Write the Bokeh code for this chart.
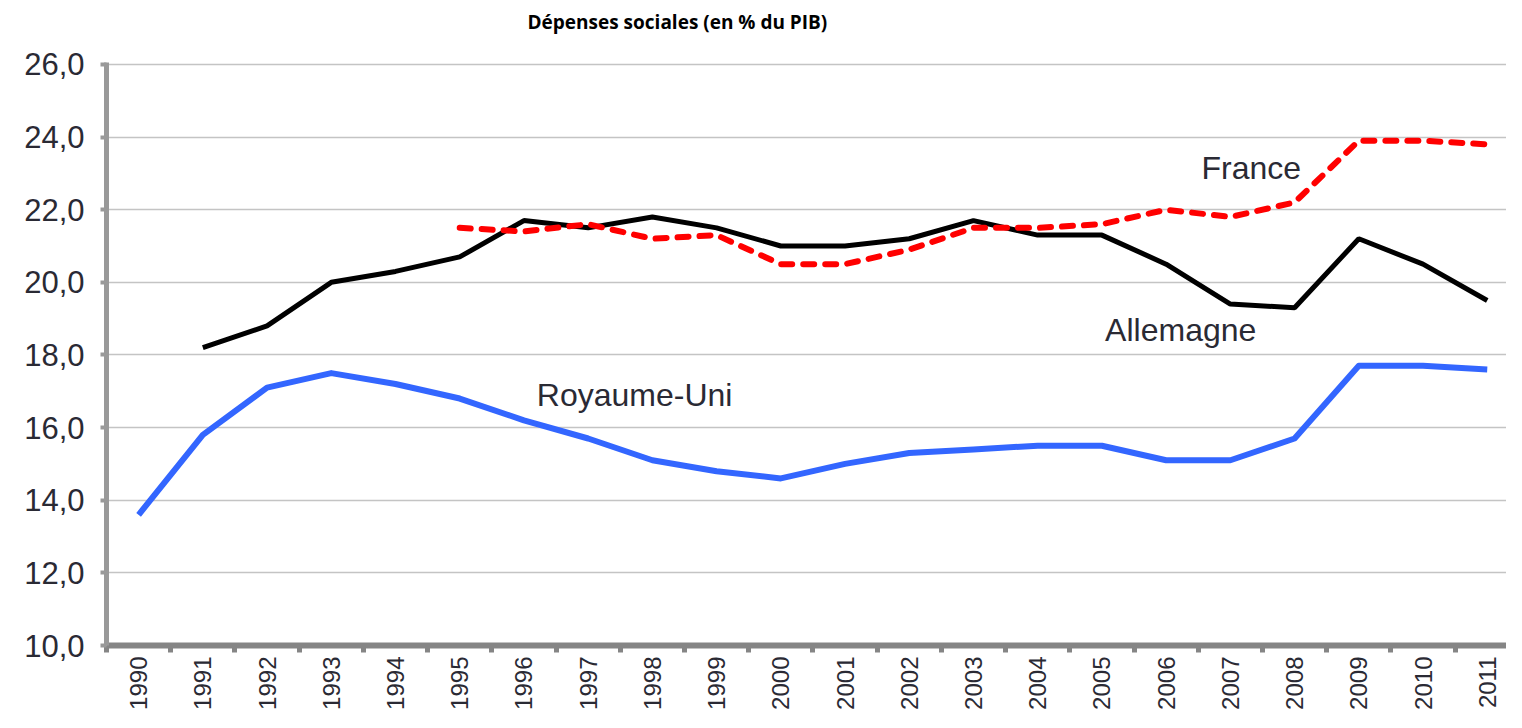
from math import pi
from bokeh.plotting import figure
from bokeh.models import FixedTicker, Range1d, Label
from bokeh.embed import file_html
from bokeh.resources import INLINE

years = [1990, 1991, 1992, 1993, 1994, 1995, 1996, 1997, 1998, 1999, 2000,
         2001, 2002, 2003, 2004, 2005, 2006, 2007, 2008, 2009, 2010, 2011]

uk_years = years
uk_values = [13.6, 15.8, 17.1, 17.5, 17.2, 16.8, 16.2, 15.7, 15.1, 14.8, 14.6,
             15.0, 15.3, 15.4, 15.5, 15.5, 15.1, 15.1, 15.7, 17.7, 17.7, 17.6]

de_years = years[1:]
de_values = [18.2, 18.8, 20.0, 20.3, 20.7, 21.7, 21.5, 21.8, 21.5, 21.0,
             21.0, 21.2, 21.7, 21.3, 21.3, 20.5, 19.4, 19.3, 21.2, 20.5, 19.5]

fr_years = years[5:]
fr_values = [21.5, 21.4, 21.6, 21.2, 21.3, 20.5, 20.5, 20.9, 21.5, 21.5,
             21.6, 22.0, 21.8, 22.2, 23.9, 23.9, 23.8]

y_ticks = [10, 12, 14, 16, 18, 20, 22, 24, 26]

series_labels = [
    ("France", 2006.55, 23.15),
    ("Allemagne", 2005.05, 18.7),
    ("Royaume-Uni", 1996.2, 16.9),
]

title_text = "Dépenses sociales (en % du PIB)"

FONT = "Liberation Sans"
TEXT = "#2a2a34"

x0 = years[0]
idx = lambda ys: [y - x0 for y in ys]

# the y range extends above 26 to leave room for the title inside the frame
p = figure(width=1506, height=712,
           x_range=Range1d(-0.5, 21.3), y_range=Range1d(10, 27.54),
           output_backend="svg", toolbar_location=None,
           min_border_left=106, min_border_right=0,
           min_border_bottom=66, min_border_top=8)

p.outline_line_color = None
p.xgrid.grid_line_color = None
p.ygrid.grid_line_color = "#c4c4c4"
p.ygrid.grid_line_width = 1.5
p.ygrid.ticker = FixedTicker(ticks=y_ticks)

# y axis
p.yaxis.ticker = FixedTicker(ticks=y_ticks)
p.yaxis.bounds = (10, 26.05)
p.yaxis.major_label_overrides = {t: f"{t},0" for t in y_ticks}
p.yaxis.axis_line_color = "#999999"
p.yaxis.axis_line_width = 5
p.yaxis.major_tick_line_color = "#999999"
p.yaxis.major_tick_line_width = 4
p.yaxis.major_tick_out = 6
p.yaxis.major_tick_in = 0
p.yaxis.minor_tick_line_color = None
p.yaxis.major_label_text_font = FONT
p.yaxis.major_label_text_font_size = "31px"
p.yaxis.major_label_text_color = TEXT
p.yaxis.major_label_standoff = 16

# x axis
centers = idx(years)
bounds = [c - 0.5 for c in centers] + [centers[-1] + 0.5]
p.xaxis.ticker = FixedTicker(ticks=centers, minor_ticks=bounds)
p.xaxis.major_label_overrides = {c: str(y) for c, y in zip(centers, years)}
p.xaxis.major_label_orientation = pi / 2
p.xaxis.axis_line_color = "#858585"
p.xaxis.axis_line_width = 6
p.xaxis.major_tick_line_color = None
p.xaxis.minor_tick_line_color = "#858585"
p.xaxis.minor_tick_line_width = 5
p.xaxis.minor_tick_out = 7
p.xaxis.minor_tick_in = 0
p.xaxis.major_label_text_font = FONT
p.xaxis.major_label_text_font_size = "24px"
p.xaxis.major_label_text_color = TEXT
p.xaxis.major_label_standoff = 4

p.line(idx(uk_years), uk_values, line_color="#3366ff", line_width=6, line_join="round")
p.line(idx(de_years), de_values, line_color="#000000", line_width=5)
p.line(idx(fr_years), fr_values, line_color="#ff0000", line_width=6,
       line_dash="11 11", line_cap="round", line_join="round")

for txt, yr, val in series_labels:
    p.add_layout(Label(x=yr - x0, y=val, text=txt, text_font=FONT,
                       text_font_size="32px", text_color=TEXT,
                       text_align="left", text_baseline="middle"))

# chart title, drawn in the headroom above the 26,0 line
p.add_layout(Label(x=8.39, y=27.16, text=title_text, text_font="Open Sans",
                   text_font_style="bold", text_font_size="19px",
                   text_color="#000000", text_align="center",
                   text_baseline="middle"))

open("out.html", "w").write(file_html(p, INLINE))
